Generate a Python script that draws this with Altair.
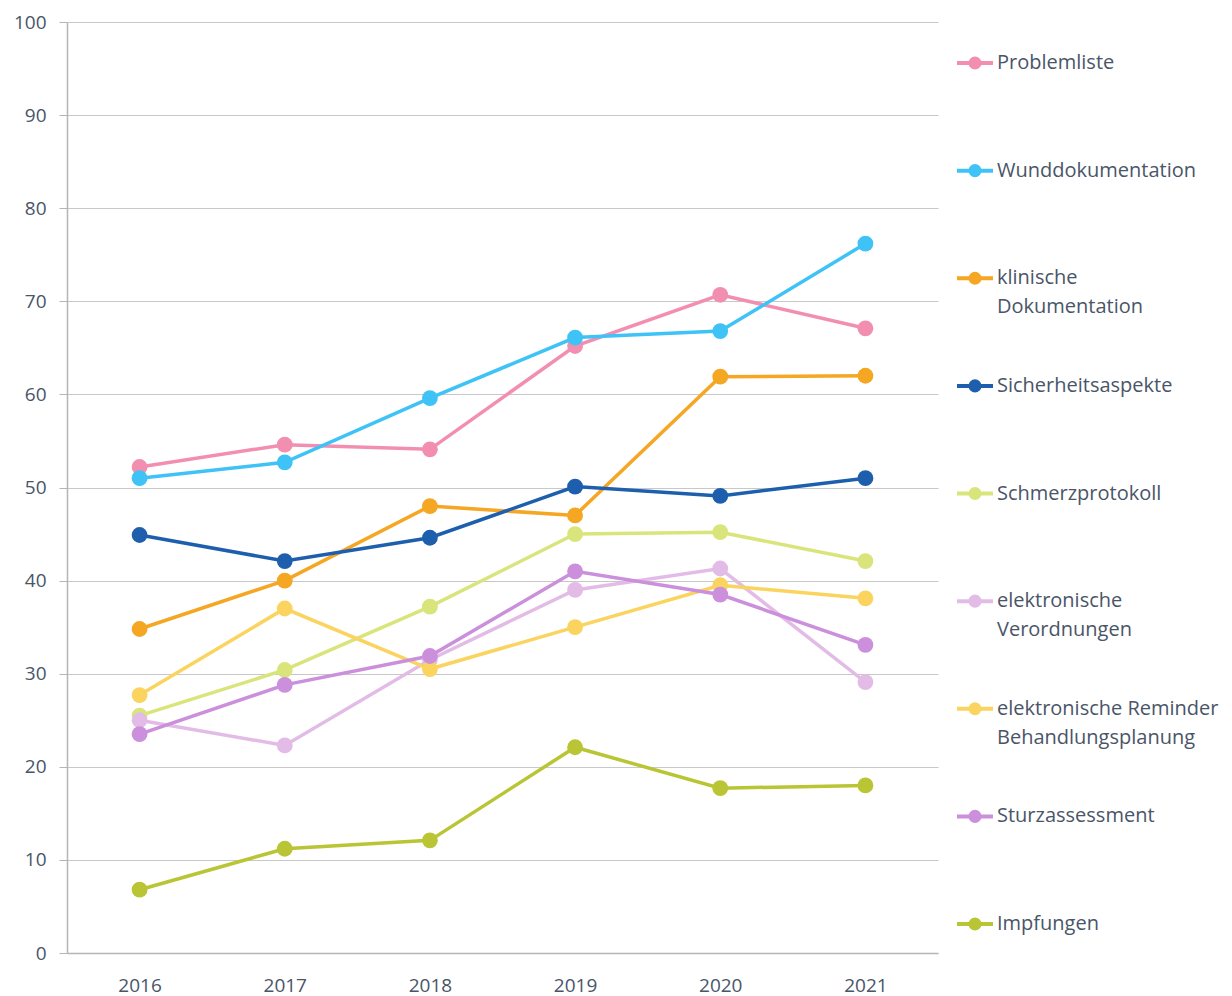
import altair as alt
import pandas as pd

years = [2016, 2017, 2018, 2019, 2020, 2021]

series_names = [
    "Problemliste",
    "Wunddokumentation",
    "klinische Dokumentation",
    "Sicherheitsaspekte",
    "Schmerzprotokoll",
    "elektronische Verordnungen",
    "elektronische Reminder Behandlungsplanung",
    "Sturzassessment",
    "Impfungen",
]
legend_line1 = [
    "Problemliste", "Wunddokumentation", "klinische", "Sicherheitsaspekte",
    "Schmerzprotokoll", "elektronische", "elektronische Reminder",
    "Sturzassessment", "Impfungen",
]
legend_line2 = [
    "", "", "Dokumentation", "", "", "Verordnungen", "Behandlungsplanung", "", "",
]
colors = [
    "#F28FB1", "#3FC3F7", "#F5A623", "#1E5FAD", "#D9E57A",
    "#E2BCE6", "#FAD45E", "#CB8FDB", "#B9C534",
]

problemliste = [52.2, 54.6, 54.1, 65.2, 70.7, 67.1]
wunddokumentation = [51.0, 52.7, 59.6, 66.1, 66.8, 76.2]
klinische = [34.8, 40.0, 48.0, 47.0, 61.9, 62.0]
sicherheit = [44.9, 42.1, 44.6, 50.1, 49.1, 51.0]
schmerz = [25.5, 30.4, 37.2, 45.0, 45.2, 42.1]
verordnungen = [25.0, 22.3, 31.5, 39.0, 41.3, 29.1]
reminder = [27.7, 37.0, 30.5, 35.0, 39.5, 38.1]
sturz = [23.5, 28.8, 31.9, 41.0, 38.5, 33.1]
impfungen = [6.8, 11.2, 12.1, 22.1, 17.7, 18.0]

values = [problemliste, wunddokumentation, klinische, sicherheit, schmerz,
          verordnungen, reminder, sturz, impfungen]

rows = []
for i, (name, vals) in enumerate(zip(series_names, values)):
    for y, v in zip(years, vals):
        rows.append({"series": name, "year": str(y), "value": v, "order": i})
df = pd.DataFrame(rows)

leg = pd.DataFrame({"series": series_names, "l1": legend_line1, "l2": legend_line2})

FONT = "Open Sans"
TEXT_COLOR = "#4A5568"

color_scale = alt.Scale(domain=series_names, range=colors)

base = alt.Chart(df).encode(
    x=alt.X("year:O", title=None, sort=[str(y) for y in years],
            axis=alt.Axis(labelAngle=0, ticks=False, labelPadding=23,
                          domainColor="#B5B5B5", domainWidth=1.5,
                          labelFont=FONT, labelFontSize=19, labelColor=TEXT_COLOR)),
    y=alt.Y("value:Q", title=None,
            scale=alt.Scale(domain=[0, 100], nice=False),
            axis=alt.Axis(values=list(range(0, 101, 10)), tickSize=8, tickColor="#B5B5B5",
                          domainColor="#B5B5B5", domainWidth=1.5,
                          gridColor="#C8C8C8", grid=True, labelPadding=13,
                          labelFont=FONT, labelFontSize=19, labelColor=TEXT_COLOR)),
    color=alt.Color("series:N", scale=color_scale, legend=None),
    order=alt.Order("order:Q"),
)

lines = base.mark_line(strokeWidth=3.5)
points = base.mark_circle(size=250, opacity=1)

main = alt.layer(lines, points).properties(width=871, height=931)

ly = alt.Y("series:N", sort=series_names,
           scale=alt.Scale(type="point", domain=series_names, range=[41, 902], padding=0),
           axis=None)
lbase = alt.Chart(leg)
lrule = lbase.mark_rule(strokeWidth=4).encode(
    x=alt.value(9), x2=alt.value(45), y=ly,
    color=alt.Color("series:N", scale=color_scale, legend=None))
ldot = lbase.mark_circle(size=170, opacity=1).encode(
    x=alt.value(27), y=ly,
    color=alt.Color("series:N", scale=color_scale, legend=None))
ltext1 = lbase.mark_text(align="left", baseline="middle", font=FONT, fontSize=20,
                         color=TEXT_COLOR).encode(x=alt.value(49), y=ly, text="l1:N")
ltext2 = lbase.mark_text(align="left", baseline="middle", font=FONT, fontSize=20,
                         color=TEXT_COLOR, dy=29).encode(x=alt.value(49), y=ly, text="l2:N")
legend_panel = alt.layer(lrule, ldot, ltext1, ltext2).properties(width=270, height=931)

chart = alt.hconcat(main, legend_panel, spacing=10).configure_view(stroke=None)

chart.save("out.html", embed_options={"renderer": "svg", "actions": False})
